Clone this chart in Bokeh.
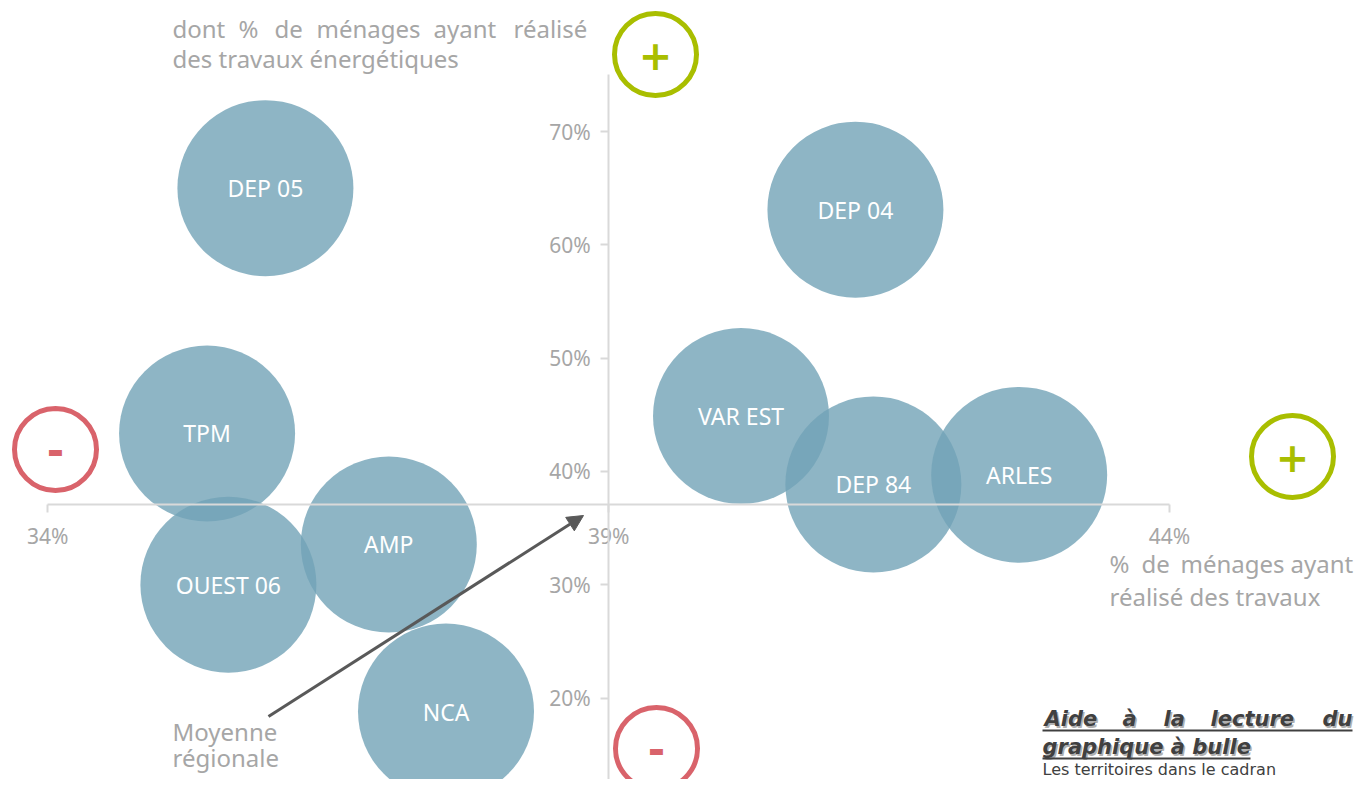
from bokeh.plotting import figure
from bokeh.models import LinearAxis, FixedTicker, PrintfTickFormatter, Arrow, NormalHead
from bokeh.core.properties import value
from bokeh.embed import file_html
from bokeh.resources import INLINE

# ---- data ----
names = ["DEP 05", "DEP 04", "VAR EST", "TPM", "DEP 84", "ARLES", "AMP", "OUEST 06", "NCA"]
pct_travaux = [35.94, 41.20, 40.18, 35.42, 41.36, 42.66, 37.04, 35.61, 37.55]
pct_energetiques = [65.0, 63.1, 44.9, 43.35, 38.85, 39.7, 33.55, 30.0, 18.8]
x_ticks = [34, 39, 44]
y_ticks = [20, 30, 40, 50, 60, 70]
moyenne_travaux = 39.0
moyenne_energetiques = 37.1

# ---- geometry ----
W, H = 1355, 779
PX_X = 112.17
PX_Y = 11.33
X0 = 34 - 47.3 / PX_X
Y1 = 70 + 131 / PX_Y


def X(px):
    return X0 + px / PX_X


def Y(py):
    return Y1 - py / PX_Y


FONT = "Noto Sans"
GREY = "#A6A6A6"

p = figure(width=W, height=H, x_range=(X0, X0 + W / PX_X), y_range=(Y1 - H / PX_Y, Y1),
           output_backend="svg", toolbar_location=None, x_axis_type=None, y_axis_type=None,
           min_border=0)
p.outline_line_color = None
p.background_fill_color = "white"

# axes through the regional average
xaxis = LinearAxis(fixed_location=moyenne_energetiques, ticker=FixedTicker(ticks=x_ticks),
                   formatter=PrintfTickFormatter(format="%d%%"), bounds=(34, 44))
yaxis = LinearAxis(fixed_location=moyenne_travaux, ticker=FixedTicker(ticks=y_ticks),
                   formatter=PrintfTickFormatter(format="%d%%"), bounds=(0, 75))
for ax in (xaxis, yaxis):
    ax.axis_line_color = "#D9D9D9"
    ax.axis_line_width = 2
    ax.major_tick_line_color = "#D9D9D9"
    ax.major_tick_line_width = 2
    ax.major_tick_in = 0
    ax.major_tick_out = 8
    ax.minor_tick_line_color = None
    ax.major_label_text_color = GREY
    ax.major_label_text_font = FONT
    ax.major_label_text_font_size = "21px"
    ax.major_label_standoff = 10
p.add_layout(xaxis, "below")
p.add_layout(yaxis, "left")

# bubbles
p.scatter(x=pct_travaux, y=pct_energetiques, size=176, fill_color="#72A3B7", fill_alpha=0.8,
          line_color=None, level="underlay")
p.text(x=pct_travaux, y=pct_energetiques, text=names, text_color="white",
       text_font=value(FONT), text_font_size="23px", text_align="center", text_baseline="middle")

# +/- markers
p.scatter(x=[X(655), X(1292)], y=[Y(54), Y(456)], size=82, fill_color=None,
          line_color="#A9BE00", line_width=5)
p.scatter(x=[X(55), X(656)], y=[Y(449), Y(748)], size=82, fill_color=None,
          line_color="#D9636B", line_width=5)
p.text(x=[X(655), X(1292)], y=[Y(54), Y(456)], text=["+", "+"], text_color="#A9BE00",
       text_font=value("DejaVu Sans"), text_font_style="bold", text_font_size="40px",
       text_align="center", text_baseline="middle")
p.text(x=[X(55), X(656)], y=[Y(449), Y(748)], text=["-", "-"], text_color="#D9636B",
       text_font=value("DejaVu Sans"), text_font_style="bold", text_font_size="42px",
       text_align="center", text_baseline="middle")

# y axis title (justified first line)
p.text(x=[X(172), X(238), X(274), X(316), X(433), X(513)], y=[Y(28)] * 6,
       text=["dont", "%", "de", "ménages", "ayant", "réalisé"], text_color=GREY,
       text_font=value(FONT), text_font_size="24px", text_align="left", text_baseline="middle")
p.text(x=[X(172)], y=[Y(58)], text=["des travaux énergétiques"], text_color=GREY,
       text_font=value(FONT), text_font_size="24px", text_align="left", text_baseline="middle")

# x axis title
p.text(x=[X(1109), X(1141), X(1180), X(1290)], y=[Y(563)] * 4,
       text=["%", "de", "ménages", "ayant"], text_color=GREY,
       text_font=value(FONT), text_font_size="24px", text_align="left", text_baseline="middle")
p.text(x=[X(1109)], y=[Y(596)], text=["réalisé des travaux"], text_color=GREY,
       text_font=value(FONT), text_font_size="24px", text_align="left", text_baseline="middle")

# regional average annotation
p.add_layout(Arrow(end=NormalHead(size=16, fill_color="#595959", line_color="#595959"),
                   x_start=X(268), y_start=Y(716), x_end=X(583), y_end=Y(515),
                   line_color="#595959", line_width=3))
p.text(x=[X(172), X(172)], y=[Y(731), Y(757)], text=["Moyenne", "régionale"], text_color=GREY,
       text_font=value(FONT), text_font_size="24px", text_align="left", text_baseline="middle")

# reading help
aide_x = [X(1044), X(1122), X(1163), X(1210), X(1322)]
aide_words = ["Aide", "à", "la", "lecture", "du"]
AY1, AY2 = 718, 746
p.text(x=[v + 1.5 / PX_X for v in aide_x], y=[Y(AY1 + 2)] * 5, text=aide_words, text_color="#B0B0B0",
       text_font=value("DejaVu Sans"), text_font_style="bold italic", text_font_size="21px",
       text_align="left", text_baseline="middle")
p.text(x=aide_x, y=[Y(AY1)] * 5, text=aide_words, text_color="#404040",
       text_font=value("DejaVu Sans"), text_font_style="bold italic", text_font_size="21px",
       text_align="left", text_baseline="middle")
p.text(x=[X(1043.5)], y=[Y(AY2 + 2)], text=["graphique à bulle"], text_color="#B0B0B0",
       text_font=value("DejaVu Sans"), text_font_style="bold italic", text_font_size="21px",
       text_align="left", text_baseline="middle")
p.text(x=[X(1042)], y=[Y(AY2)], text=["graphique à bulle"], text_color="#404040",
       text_font=value("DejaVu Sans"), text_font_style="bold italic", text_font_size="21px",
       text_align="left", text_baseline="middle")
p.segment(x0=[X(1042), X(1042)], y0=[Y(AY1 + 12), Y(AY2 + 12)], x1=[X(1352), X(1250)],
          y1=[Y(AY1 + 12), Y(AY2 + 12)], line_color="#404040", line_width=2)
p.text(x=[X(1042)], y=[Y(769)], text=["Les territoires dans le cadran"], text_color="#404040",
       text_font=value("DejaVu Sans"), text_font_size="16px", text_align="left", text_baseline="middle")

open("out.html", "w").write(file_html(p, INLINE))
